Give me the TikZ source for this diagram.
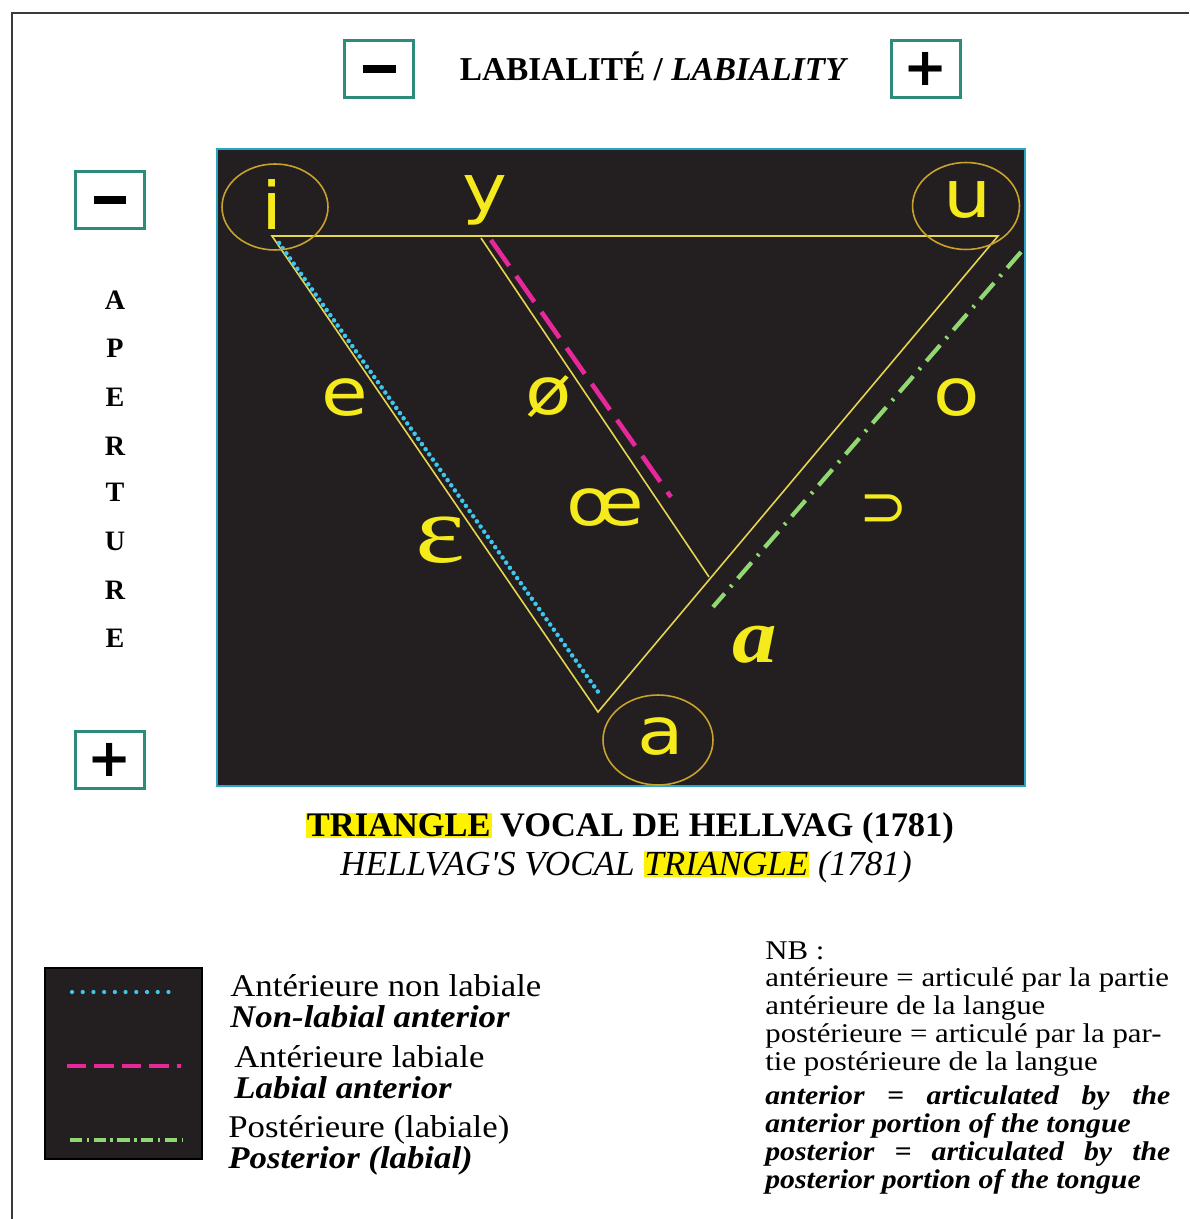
\documentclass[tikz,border=0pt]{standalone}
\usepackage{fontspec}
\setmainfont{Liberation Serif}
\newfontfamily\djv{DejaVu Sans}
\newfontfamily\wideserif{Liberation Serif}[FakeStretch=1.1]
\newfontfamily\nbserif{Liberation Serif}[FakeStretch=1.14]
\definecolor{panel}{HTML}{231F20}
\definecolor{panelrim}{HTML}{2AA6C4}
\definecolor{vyellow}{HTML}{F4EA1C}
\definecolor{tline}{HTML}{E6D550}
\definecolor{ring}{HTML}{C9A22C}
\definecolor{dcyan}{HTML}{3CC6F0}
\definecolor{dpink}{HTML}{E8289A}
\definecolor{dgreen}{HTML}{92D872}
\definecolor{teal}{HTML}{2E8B7A}
\definecolor{framegray}{HTML}{3A3A3A}
\definecolor{hilite}{HTML}{FFF200}
\newcommand{\wv}[1]{\scalebox{1.2}[1.04]{#1}}
\tikzset{
  signbox/.style={draw=teal, line width=1.3pt, fill=white, minimum width=1.38cm, minimum height=1.14cm, inner sep=0pt, font=\djv\bfseries\fontsize{30}{30}\selectfont},
  vowel/.style={text=vyellow, inner sep=0pt, font=\djv\fontsize{36}{40}\selectfont},
  apletter/.style={inner sep=0pt, font=\bfseries\fontsize{16}{16}\selectfont},
  tri/.style={draw=tline, line width=0.9pt},
  ringst/.style={draw=ring, line width=0.9pt},
  cyandot/.style={draw=dcyan, line width=2.6pt, line cap=round, dash pattern=on 0pt off 3.6pt},
  pinkdash/.style={draw=dpink, line width=2.6pt, dash pattern=on 18pt off 7pt},
  greendd/.style={draw=dgreen, line width=2.4pt, dash pattern=on 12pt off 5pt on 1.4pt off 5pt},
  legtxt/.style={anchor=west, inner sep=0pt, font=\wideserif\fontsize{18}{20}\selectfont},
  legtxti/.style={anchor=west, inner sep=0pt, font=\wideserif\bfseries\itshape\fontsize{18}{20}\selectfont},
  nbtxt/.style={anchor=west, inner sep=0pt, font=\nbserif\fontsize{15.4}{16}\selectfont},
  nbtxti/.style={anchor=west, inner sep=0pt, font=\wideserif\itshape\bfseries\fontsize{15.4}{16}\selectfont},
}
\begin{document}
\begin{tikzpicture}[x=0.02cm,y=-0.02cm]
\useasboundingbox (0,0) rectangle (1189,1219);
\fill[white] (0,0) rectangle (1189,1219);
% outer frame (top and left only visible)
\draw[framegray, line width=1.3pt] (12,1219) -- (12,13) -- (1189,13);

% top labiality header
\node[signbox] (labminus) at (379,69) {\rule{0.66cm}{0.16cm}};
\node[signbox] (labplus) at (926,69) {+};
\node[anchor=base, inner sep=0pt, font=\bfseries\fontsize{19}{20}\selectfont] (labtitle) at (654,81) {LABIALITÉ / \textit{LABIALITY}};

% left aperture axis
\node[signbox] (apminus) at (110,200) {\rule{0.66cm}{0.16cm}};
\node[signbox] (applus) at (110,760) {+};
\node[apletter] (ap1) at (115,300) {A};
\node[apletter] (ap2) at (115,348) {P};
\node[apletter] (ap3) at (115,397) {E};
\node[apletter] (ap4) at (115,446) {R};
\node[apletter] (ap5) at (115,492) {T};
\node[apletter] (ap6) at (115,541) {U};
\node[apletter] (ap7) at (115,590) {R};
\node[apletter] (ap8) at (115,638) {E};

% panel
\draw[panelrim, fill=panel, line width=0.9pt] (217,149) rectangle (1025,786);

% triangle vertices
\coordinate (vi) at (272,236);
\coordinate (vu) at (998,236);
\coordinate (va) at (598,712);
\coordinate (vy) at (481,238);
\coordinate (vm) at (709,577);

\draw[tri] (vi) -- (vu) -- (va) -- cycle;
\draw[tri] (vy) -- (vm);

% coloured class lines
\coordinate (cy1) at (279,243);
\coordinate (cy2) at (601,696);
\draw[cyandot] (cy1) -- (cy2);
\coordinate (pk1) at (491,240);
\coordinate (pk2) at (671,497);
\draw[pinkdash] (pk1) -- (pk2);
\coordinate (gr1) at (1021,252);
\coordinate (gr2) at (713,607);
\draw[greendd] (gr1) -- (gr2);

% rings
\draw[ringst] (275,207) ellipse [x radius=1.06cm, y radius=0.86cm];
\draw[ringst] (966,206) ellipse [x radius=1.07cm, y radius=0.87cm];
\draw[ringst] (658,740) ellipse [x radius=1.1cm, y radius=0.9cm];

% vowels
\node[vowel] (li) at (272,205) {\wv{i}};
\node[vowel] (ly) at (485,200) {\wv{y}};
\node[vowel] (lu) at (968,200) {\wv{u}};
\node[vowel] (le) at (345,398) {\wv{e}};
\node[vowel] (loe) at (549,397) {\wv{ø}};
\node[vowel] (lo) at (957,398) {\wv{o}};
\node[vowel] (lce) at (605,508) {\wv{œ}};
\node[text=vyellow, inner sep=0pt, font=\fontsize{54}{54}\selectfont] (leps) at (440,540) {\scalebox{1.25}[1.02]{ɛ}};
\node[vowel, font=\djv\fontsize{33}{33}\selectfont] (lsup) at (884,511) {⊃};
\node[text=vyellow, inner sep=0pt, font=\bfseries\itshape\fontsize{44}{44}\selectfont] (lait) at (755,645) {\scalebox{1.15}[1]{a}};
\node[vowel] (la) at (661,737) {\wv{a}};

% caption
\setlength{\fboxsep}{0.5pt}
\node[inner sep=0pt, font=\bfseries\fontsize{19.6}{20}\selectfont] (cap1) at (630,828) {\colorbox{hilite}{TRIANGLE} VOCAL DE HELLVAG (1781)};
\node[inner sep=0pt, font=\itshape\fontsize{20}{20}\selectfont] (cap2) at (626,867) {HELLVAG\textquotesingle S VOCAL \colorbox{hilite}{TRIANGLE} (1781)};

% legend
\draw[black, fill=panel, line width=1.2pt] (45,968) rectangle (202,1159);
\coordinate (lc1) at (72,992);
\coordinate (lc2) at (178,992);
\draw[draw=dcyan, line width=2.4pt, line cap=round, dash pattern=on 0pt off 6.1pt] (lc1) -- (lc2);
\coordinate (lp1) at (67,1066);
\coordinate (lp2) at (181,1066);
\draw[draw=dpink, line width=2.4pt, dash pattern=on 11pt off 4.6pt] (lp1) -- (lp2);
\coordinate (lg1) at (70,1140);
\coordinate (lg2) at (182,1140);
\draw[draw=dgreen, line width=2.4pt, dash pattern=on 7pt off 2.5pt on 1.5pt off 2.5pt] (lg1) -- (lg2);

\node[legtxt] (lt1) at (230,986) {Antérieure non labiale};
\node[legtxti] (lt2) at (230,1017) {Non-labial anterior};
\node[legtxt] (lt3) at (234,1057) {Antérieure labiale};
\node[legtxti] (lt4) at (234,1088) {Labial anterior};
\node[legtxt] (lt5) at (228,1130) {Postérieure (labiale)};
\node[legtxti] (lt6) at (228,1161) {Posterior (labial)};

% NB
\node[nbtxt] (nb0) at (765,951) {NB :};
\node[nbtxt] (nb1) at (765,980) {antérieure = articulé par la partie};
\node[nbtxt] (nb2) at (765,1008) {antérieure de la langue};
\node[nbtxt] (nb3) at (765,1036) {postérieure = articulé par la par-};
\node[nbtxt] (nb4) at (765,1064) {tie postérieure de la langue};
\node[nbtxti] (nb5) at (765,1098) {\makebox[8.1cm][s]{anterior = articulated by the}};
\node[nbtxti] (nb6) at (765,1126) {anterior portion of the tongue};
\node[nbtxti] (nb7) at (765,1154) {\makebox[8.1cm][s]{posterior = articulated by the}};
\node[nbtxti] (nb8) at (765,1182) {posterior portion of the tongue};
\end{tikzpicture}
\end{document}
